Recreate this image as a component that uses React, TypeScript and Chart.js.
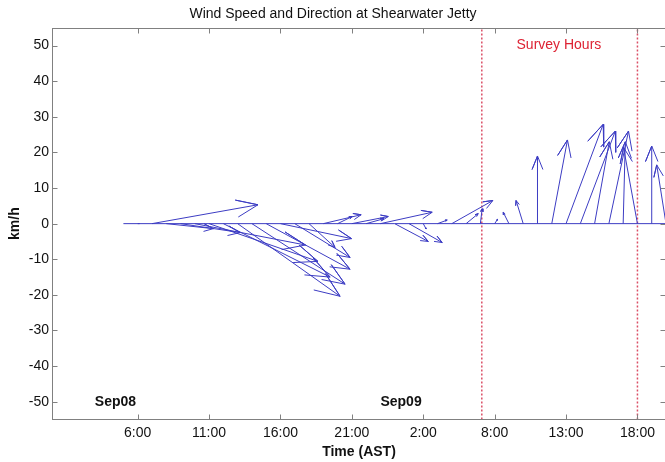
import React, { useEffect, useRef } from "react";
import { Chart, registerables } from "chart.js";

Chart.register(...registerables);

// Hours since Sep08 00:00 (arrow origins on the time axis)
const hours = [5, 6, 7, 8, 9, 10, 11, 12, 13, 14, 15, 16, 17, 18, 19, 20, 21, 22, 23, 24,
  25, 26, 27, 28, 29, 30, 31, 32, 33, 34, 35, 36, 37, 38, 39, 40, 41, 42, 43];
// Eastward wind component (km/h)
const uEast = [0, 0.5, 29.7, 13.2, 16.7, 31, 30.5, 29.9, 28.7, 26.1, 23.5, 19.9, 15.5, 7.3, 10.6, 4.1,
  10.2, 5, 14.5, 9.4, 9.3, 0.8, 2.7, 11.5, 3.4, 0.5, 0.8, -1.6, -2, 0, 4.4, 10.4, 9.8, 4.1, 5.5, 0.6,
  -3.9, 0, -2.6];
// Northward wind component (km/h)
const vNorth = [0, 0, 5.3, -1.4, -2.5, -6, -10.6, -15, -20.4, -17, -12.8, -4.2, -9.5, -6.7, 2.5, 2,
  2, 1.4, 3.2, -5, -5.3, -1.5, 1, 6.5, 2.8, 4.2, 1.2, 3.2, 6.5, 19, 23.5, 27.9, 26, 23, 26, 23,
  21.4, 21.8, 16.5];

const xTickValues = [6, 11, 16, 21, 26, 31, 36, 41];
const xTickLabels = ["6:00", "11:00", "16:00", "21:00", "2:00", "8:00", "13:00", "18:00"];
const yTickValues = [-50, -40, -30, -20, -10, 0, 10, 20, 30, 40, 50];
const surveyLines = [30.1, 41];
const dayLabels = [
  { text: "Sep08", x: 3, y: -50 },
  { text: "Sep09", x: 23, y: -50 },
];

const X_MIN = 0;
const X_MAX = 43;
const Y_MIN = -55;
const Y_MAX = 55;
const K = 0.25; // hours of x per km/h, keeps arrows isotropic on screen

const FONT = "'Liberation Sans', Arial, sans-serif";
const ARROW = "rgb(60,60,195)";

function arrowPoints(h: number, u: number, v: number) {
  const tx = u * 0.8;
  const ty = v * 0.8;
  const px = -v * 0.08;
  const py = u * 0.08;
  const toXY = (a: number, b: number) => ({ x: h + a * K, y: b });
  return [toXY(0, 0), toXY(u, v), toXY(tx + px, ty + py), toXY(u, v), toXY(tx - px, ty - py)];
}

const decorPlugin = {
  id: "decor",
  afterDatasetsDraw(chart: any) {
    const { ctx, chartArea, scales } = chart;
    const xs = scales.x;
    const ys = scales.y;
    ctx.save();
    ctx.fillStyle = "#dd2233";
    ctx.font = `14px ${FONT}`;
    ctx.textAlign = "center";
    ctx.textBaseline = "middle";
    ctx.fillText("Survey Hours", xs.getPixelForValue(35.5), ys.getPixelForValue(50));
    ctx.fillStyle = "#111";
    ctx.font = `bold 14px ${FONT}`;
    ctx.textAlign = "left";
    for (const d of dayLabels) {
      ctx.fillText(d.text, xs.getPixelForValue(d.x), ys.getPixelForValue(d.y));
    }
    // box
    ctx.strokeStyle = "#808080";
    ctx.lineWidth = 1;
    const l = Math.round(chartArea.left) + 0.5;
    const r = Math.round(chartArea.right) - 0.5;
    const t = Math.round(chartArea.top) + 0.5;
    const b = Math.round(chartArea.bottom) - 0.5;
    ctx.strokeRect(l, t, r - l, b - t);
    // inward tick marks
    ctx.beginPath();
    for (const tk of xs.ticks) {
      const px = Math.round(xs.getPixelForValue(tk.value)) + 0.5;
      ctx.moveTo(px, b);
      ctx.lineTo(px, b - 5);
      ctx.moveTo(px, t);
      ctx.lineTo(px, t + 5);
    }
    for (const tk of ys.ticks) {
      const py = Math.round(ys.getPixelForValue(tk.value)) + 0.5;
      ctx.moveTo(l, py);
      ctx.lineTo(l + 5, py);
      ctx.moveTo(r, py);
      ctx.lineTo(r - 5, py);
    }
    ctx.stroke();
    ctx.restore();
  },
};

export default function App() {
  const ref = useRef<HTMLCanvasElement | null>(null);
  useEffect(() => {
    if (!ref.current) return;
    const datasets: any[] = [];
    datasets.push({
      data: [{ x: hours[0], y: 0 }, { x: hours[hours.length - 1], y: 0 }],
      borderColor: ARROW,
      borderWidth: 1,
      pointRadius: 0,
    });
    hours.forEach((h, i) => {
      datasets.push({
        data: arrowPoints(h, uEast[i], vNorth[i]),
        borderColor: ARROW,
        borderWidth: 1,
        pointRadius: 0,
        tension: 0,
      });
    });
    surveyLines.forEach((s) => {
      datasets.push({
        data: [{ x: s, y: Y_MIN }, { x: s, y: Y_MAX }],
        borderColor: "rgba(215,60,85,0.9)",
        borderWidth: 1.5,
        borderDash: [2, 2],
        pointRadius: 0,
      });
    });
    const chart = new Chart(ref.current, {
      type: "line",
      data: { datasets },
      plugins: [decorPlugin],
      options: {
        animation: false,
        responsive: false,
        devicePixelRatio: 1,
        layout: { padding: { left: 0, right: 2, top: 0, bottom: 0 } },
        plugins: {
          legend: { display: false },
          tooltip: { enabled: false },
          title: {
            display: true,
            text: "Wind Speed and Direction at Shearwater Jetty",
            color: "#111",
            font: { family: FONT, size: 14, weight: "normal" },
            padding: { top: 6, bottom: 5 },
          },
        },
        scales: {
          x: {
            type: "linear",
            min: X_MIN,
            max: X_MAX,
            grid: { display: false, drawTicks: false },
            border: { display: false },
            afterBuildTicks: (s: any) => {
              s.ticks = xTickValues.map((v) => ({ value: v }));
            },
            afterFit: (s: any) => {
              s.height = 42.5;
            },
            ticks: {
              autoSkip: false,
              maxRotation: 0,
              padding: 5,
              color: "#111",
              font: { family: FONT, size: 14 },
              callback: (v: any) => {
                const idx = xTickValues.indexOf(Number(v));
                return idx >= 0 ? xTickLabels[idx] : "";
              },
            },
            title: {
              display: true,
              text: "Time (AST)",
              color: "#111",
              font: { family: FONT, size: 14, weight: "bold" },
              padding: { top: 0, bottom: 1 },
            },
          },
          y: {
            type: "linear",
            min: Y_MIN,
            max: Y_MAX,
            grid: { display: false, drawTicks: false },
            border: { display: false },
            afterBuildTicks: (s: any) => {
              s.ticks = yTickValues.map((v) => ({ value: v }));
            },
            afterFit: (s: any) => {
              s.width = 52;
            },
            ticks: {
              padding: 3,
              color: "#111",
              font: { family: FONT, size: 14 },
              callback: (v: any) => String(v),
            },
            title: {
              display: true,
              text: "km/h",
              color: "#111",
              font: { family: FONT, size: 14, weight: "bold" },
              padding: { top: 7, bottom: 0 },
            },
          },
        },
      },
    });
    return () => chart.destroy();
  }, []);
  return (
    <div style={{ position: "fixed", left: 0, top: 0, width: 665, height: 462, overflow: "hidden", background: "#fff" }}>
      <canvas ref={ref} width={668} height={462} style={{ width: 668, height: 462, display: "block" }} />
    </div>
  );
}
